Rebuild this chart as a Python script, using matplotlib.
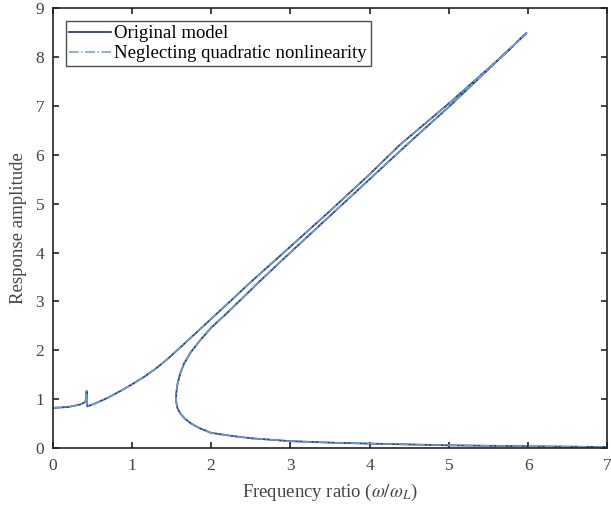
import matplotlib
matplotlib.use("Agg")
import matplotlib.pyplot as plt

# frequency ratio / amplitude (path order:
# upper branch out to the peak, back along the middle branch, then the lower branch)
freq_ratio = [0.0, 0.2, 0.35, 0.41, 0.425, 0.43, 0.433, 0.44, 0.55, 0.7, 0.85,
              1.0, 1.15, 1.3, 1.45, 1.6, 1.8, 2.0, 2.28, 2.49, 3.0, 3.5, 4.0,
              4.38, 5.0, 5.64, 5.98,
              5.5, 5.0, 4.5, 4.0, 3.5, 3.0, 2.6, 2.41, 2.2, 2.0, 1.85, 1.74,
              1.66, 1.61, 1.575, 1.56, 1.56, 1.575, 1.61, 1.67, 1.75, 1.85,
              2.0, 2.25, 2.5, 3.0, 3.5, 4.0, 5.0, 6.0, 7.0]
amplitude = [0.82, 0.84, 0.89, 0.94, 1.02, 1.17, 1.0, 0.85, 0.92, 1.03, 1.16,
             1.3, 1.45, 1.62, 1.82, 2.04, 2.34, 2.64, 3.06, 3.38, 4.12, 4.85, 5.6,
             6.2, 7.05, 7.97, 8.49,
             7.75, 6.98, 6.25, 5.5, 4.75, 4.0, 3.39, 3.09, 2.76, 2.46, 2.18, 1.95,
             1.73, 1.52, 1.3, 1.1, 0.95, 0.82, 0.71, 0.6, 0.5, 0.41,
             0.31, 0.25, 0.2, 0.14, 0.11, 0.09, 0.055, 0.035, 0.02]

labels = ["Original model", "Neglecting quadratic nonlinearity"]
x_ticks = [0, 1, 2, 3, 4, 5, 6, 7]
y_ticks = [0, 1, 2, 3, 4, 5, 6, 7, 8, 9]

plt.rcParams["font.family"] = ["Liberation Serif", "DejaVu Serif"]
plt.rcParams["mathtext.fontset"] = "stix"

fig = plt.figure(figsize=(6.11, 5.12), dpi=100)
ax = fig.add_axes([0.086, 0.125, 0.908, 0.859])

ax.plot(freq_ratio, amplitude, color="#2b3d8a", lw=1.3, label=labels[0])
ax.plot(freq_ratio, amplitude, color="#6e9fc8", lw=1.1, ls="-.", label=labels[1])

ax.set_xlim(0, 7)
ax.set_ylim(0, 9)
ax.set_xticks(x_ticks)
ax.set_yticks(y_ticks)
ax.tick_params(direction="in", top=True, right=True, labelsize=12.5, length=4,
               width=1.2, colors="#222222", labelcolor="#444444")
ax.tick_params(axis="x", pad=7)
ax.tick_params(axis="y", pad=6)
for s in ax.spines.values():
    s.set_linewidth(1.2)
    s.set_color("#222222")

ax.set_xlabel(r"Frequency ratio ($\omega/\omega_L$)", fontsize=13.5,
              color="#444444", labelpad=6)
ax.set_ylabel("Response amplitude", fontsize=13.5, color="#444444", labelpad=6)

leg = ax.legend(loc="upper left", fontsize=13.5, frameon=True, fancybox=False,
                edgecolor="#222222", borderaxespad=0.7, handlelength=2.2,
                borderpad=0.2, labelspacing=0.15, handletextpad=0.2)
leg.get_frame().set_linewidth(1.0)

fig.savefig("out.png", dpi=100)
